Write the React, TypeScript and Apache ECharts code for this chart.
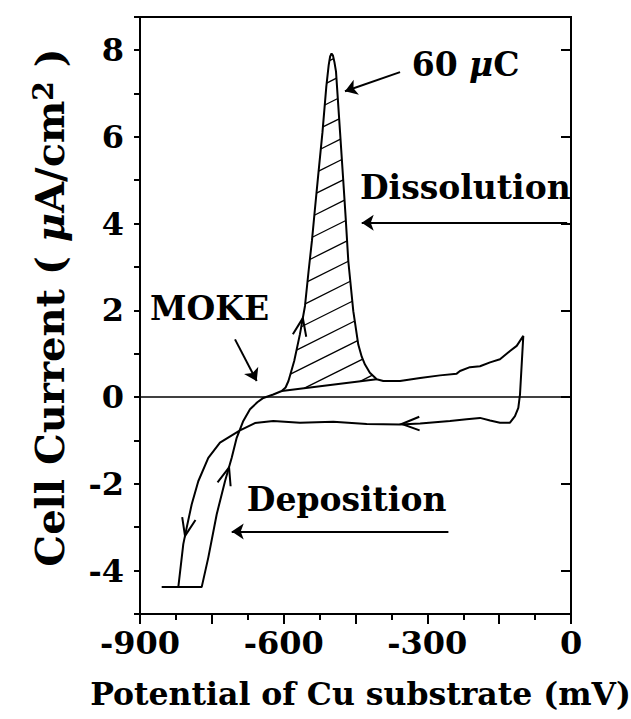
import React, { useEffect, useRef } from 'react';
import * as echarts from 'echarts';

const FONT = '"DejaVu Serif", "Liberation Serif", serif';

// Tick labels
const xTickLabels = [-900, -600, -300, 0];
const yTickLabels = [-4, -2, 0, 2, 4, 6, 8];

// Anodic sweep (towards positive potential): [mV, µA/cm²]
const anodicSweep: [number, number][] = [
  [-854.7, -4.38], [-771.2, -4.38], [-757.4, -3.7], [-739.8, -2.7], [-722.5, -1.94],
  [-708.5, -1.4], [-698.1, -0.94], [-684.3, -0.55], [-670.3, -0.28], [-655, -0.12],
  [-642.5, -0.02], [-621.7, 0.06], [-604, 0.14], [-596, 0.22], [-590, 0.37],
  [-584, 0.6], [-578, 0.83], [-566, 1.45], [-555.5, 2.1], [-548, 2.9],
  [-541, 3.6], [-535, 4.3], [-528, 5.1], [-519, 6.1], [-511, 7.15],
  [-506, 7.65], [-503, 7.85], [-500, 7.92], [-497, 7.87], [-494, 7.72],
  [-490.7, 7.5], [-482.4, 6.13], [-475.5, 4.98], [-470.5, 4.13], [-465, 3.13],
  [-454.6, 1.98], [-444.2, 1.21], [-437, 0.93], [-430.2, 0.75], [-420, 0.56],
  [-405.7, 0.41], [-392, 0.37], [-357, 0.37], [-315, 0.44], [-273.6, 0.5],
  [-238.7, 0.54], [-231.8, 0.6], [-211, 0.69], [-190, 0.71], [-169, 0.8],
  [-148.3, 0.87], [-127.4, 1.06], [-113.4, 1.18], [-99.6, 1.41],
];

// Cathodic sweep (back towards negative potential)
const cathodicSweep: [number, number][] = [
  [-106.5, 0.06], [-110, -0.25], [-117, -0.44], [-127.4, -0.59], [-148.3, -0.59],
  [-169, -0.54], [-190, -0.48], [-218, -0.51], [-252.7, -0.55], [-315, -0.61],
  [-357, -0.63], [-426.6, -0.62], [-496.4, -0.57], [-566, -0.59], [-621.7, -0.55],
  [-660, -0.6], [-691.2, -0.77], [-733, -1.05], [-757.4, -1.4], [-778.3, -1.94],
  [-792, -2.47], [-802.5, -3.01], [-809.6, -3.39], [-820, -4.38], [-854.7, -4.38],
];

// Integration baseline of the dissolution peak (60 µC)
const chargeBaseline: [number, number][] = [[-604, 0.14], [-405.7, 0.41]];

// Sweep-direction arrowheads: [tipX, tipY, tailX, tailY]
const sweepArrows: number[][] = [
  [-714, -1.62, -722.5, -1.94],
  [-806, -3.2, -800, -2.9],
  [-560, 1.82, -568, 1.35],
  [-353.5, -0.62, -315, -0.61],
];

// Annotation arrows: [fromX, fromY, toX, toY]
const annotationArrows: number[][] = [
  [-357, 7.49, -472, 7.05],
  [-8, 4.02, -437, 4.02],
  [-701.6, 1.33, -656.3, 0.37],
  [-256, -3.1, -708.5, -3.1],
];

// Annotation texts: [x, y, text]
const annotationTexts: [number, number, string][] = [
  [-332.7, 7.66, '{b|60 }{i|μ}{b|C}'],
  [-440.6, 4.82, 'Dissolution'],
  [-879, 2.03, 'MOKE'],
  [-677, -2.37, 'Deposition'],
];

const loop = [...anodicSweep, ...cathodicSweep];
const peakRegion = anodicSweep.filter((p) => p[0] >= chargeBaseline[0][0] && p[0] <= chargeBaseline[1][0]);

export default function App() {
  const ref = useRef<HTMLDivElement>(null);
  useEffect(() => {
    if (!ref.current) return;
    const chart = echarts.init(ref.current, null, { renderer: 'svg' });
    const txt = { fontFamily: FONT, fontWeight: 'bold' as const, color: '#000' };
    const option: any = {
      animation: false,
      backgroundColor: '#fff',
      grid: { left: 140, right: 60, top: 17, bottom: 105, show: true, borderColor: '#000', borderWidth: 2, backgroundColor: 'transparent', outerBoundsMode: 'none' },
      xAxis: {
        type: 'value', min: -900, max: 0, interval: 150,
        axisLine: { onZero: false, lineStyle: { color: '#000', width: 2 } },
        axisTick: { length: 10, lineStyle: { color: '#000', width: 2 } },
        minorTick: { show: true, splitNumber: 2, length: 6, lineStyle: { color: '#000', width: 2 } },
        splitLine: { show: false },
        axisLabel: {
          ...txt, fontSize: 32, margin: 13,
          formatter: (v: number) => (xTickLabels.includes(v) ? String(v) : ''),
        },
        name: 'Potential of Cu substrate (mV)', nameLocation: 'middle', nameGap: 63,
        nameTextStyle: { ...txt, fontSize: 31.5, padding: [0, 0, 0, 10] },
      },
      yAxis: [
        {
          type: 'value', min: -5, max: 8.76, interval: 1,
          axisLine: { onZero: false, lineStyle: { color: '#000', width: 2 } },
          axisTick: { length: 6, lineStyle: { color: '#000', width: 2 } },
          splitLine: { show: false },
          axisLabel: {
            ...txt, fontSize: 32, margin: 16,
            formatter: (v: number) => (yTickLabels.includes(v) ? String(v) : ''),
          },
          name: 'Cell Current ( {i|μ}A/cm{sup|2} )', nameLocation: 'middle', nameGap: 71, nameRotate: 90,
          nameTextStyle: {
            ...txt, fontSize: 40, padding: [0, 0, 0, 16],
            rich: {
              i: { ...txt, fontSize: 40, fontStyle: 'italic' },
              sup: { ...txt, fontSize: 28, verticalAlign: 'top', lineHeight: 26 },
            },
          },
        },
        {
          type: 'value', min: -5, max: 8.76, position: 'left',
          axisLine: { show: false },
          axisTick: { show: true, length: 10, customValues: yTickLabels, lineStyle: { color: '#000', width: 2 } },
          axisLabel: { show: false },
          splitLine: { show: false },
        },
      ],
      series: [
        {
          type: 'custom', name: 'charge', coordinateSystem: 'cartesian2d',
          encode: { x: 0, y: 1 }, data: peakRegion, silent: true, z: 1,
          renderItem: (params: any, api: any) => {
            if (params.dataIndex !== 0) return { type: 'group', children: [] };
            const pts = peakRegion.map((p) => api.coord(p));
            const vals = pts.map((p: number[]) => p[1] + 0.5 * p[0]);
            const cmin = Math.min(...vals), cmax = Math.max(...vals);
            const step = 21, phase = 435.4;
            const children: any[] = [];
            for (let c = phase + Math.ceil((cmin - phase) / step) * step; c <= cmax; c += step) {
              const xs: number[][] = [];
              for (let i = 0; i < pts.length; i++) {
                const a = pts[i], b = pts[(i + 1) % pts.length];
                const ga = a[1] + 0.5 * a[0] - c, gb = b[1] + 0.5 * b[0] - c;
                if ((ga < 0) !== (gb < 0)) {
                  const t = ga / (ga - gb);
                  xs.push([a[0] + t * (b[0] - a[0]), a[1] + t * (b[1] - a[1])]);
                }
              }
              xs.sort((p, q) => p[0] - q[0]);
              for (let k = 0; k + 1 < xs.length; k += 2) {
                children.push({ type: 'line', shape: { x1: xs[k][0], y1: xs[k][1], x2: xs[k + 1][0], y2: xs[k + 1][1] }, style: { stroke: '#000', lineWidth: 1.3 } });
              }
            }
            return { type: 'group', children };
          },
        },
        {
          type: 'line', name: 'sweep', data: loop, showSymbol: false, symbol: 'none',
          lineStyle: { color: '#000', width: 2 }, silent: true, z: 3,
          markLine: {
            silent: true, symbol: 'none', label: { show: false },
            lineStyle: { color: '#000', width: 1.6, type: 'solid' },
            data: [{ yAxis: 0 }],
          },
        },
        {
          type: 'line', name: 'baseline', data: chargeBaseline, showSymbol: false, symbol: 'none',
          lineStyle: { color: '#000', width: 2 }, silent: true, z: 3,
        },
        {
          type: 'custom', name: 'sweepArrows', coordinateSystem: 'cartesian2d',
          encode: { x: [0, 2], y: [1, 3] }, data: sweepArrows, silent: true, z: 4,
          renderItem: (params: any, api: any) => {
            const tip = api.coord([api.value(0), api.value(1)]);
            const tail = api.coord([api.value(2), api.value(3)]);
            let dx = tip[0] - tail[0], dy = tip[1] - tail[1];
            const len = Math.hypot(dx, dy) || 1;
            dx /= len; dy /= len;
            const L = 19, ang = (21 * Math.PI) / 180;
            const rot = (s: number) => [
              tip[0] - L * (dx * Math.cos(s * ang) - dy * Math.sin(s * ang)),
              tip[1] - L * (dx * Math.sin(s * ang) + dy * Math.cos(s * ang)),
            ];
            return {
              type: 'polyline',
              shape: { points: [rot(1), tip, rot(-1)] },
              style: { stroke: '#000', lineWidth: 2, fill: 'none' },
            };
          },
        },
        {
          type: 'lines', name: 'annotations', coordinateSystem: 'cartesian2d', silent: true, z: 4,
          symbol: ['none', 'arrow'], symbolSize: 12,
          lineStyle: { color: '#000', width: 2, opacity: 1, curveness: 0 },
          data: annotationArrows.map((a) => ({ coords: [[a[0], a[1]], [a[2], a[3]]] })),
        },
        {
          type: 'scatter', name: 'labels', silent: true, symbolSize: 0.01, z: 5,
          itemStyle: { color: '#000', opacity: 1 },
          data: annotationTexts.map((t) => ({ value: [t[0], t[1]], name: t[2] })),
          label: {
            show: true, position: 'right', distance: 0, align: 'left', verticalAlign: 'middle',
            ...txt, fontSize: 33, opacity: 1,
            formatter: (p: any) => p.name,
            rich: {
              b: { ...txt, fontSize: 33 },
              i: { ...txt, fontSize: 33, fontStyle: 'italic' },
            },
          },
        },
      ],
    };
    chart.setOption(option);
    return () => chart.dispose();
  }, []);
  return <div ref={ref} style={{ position: 'fixed', left: 0, top: 0, width: 631, height: 719, background: '#fff' }} />;
}
